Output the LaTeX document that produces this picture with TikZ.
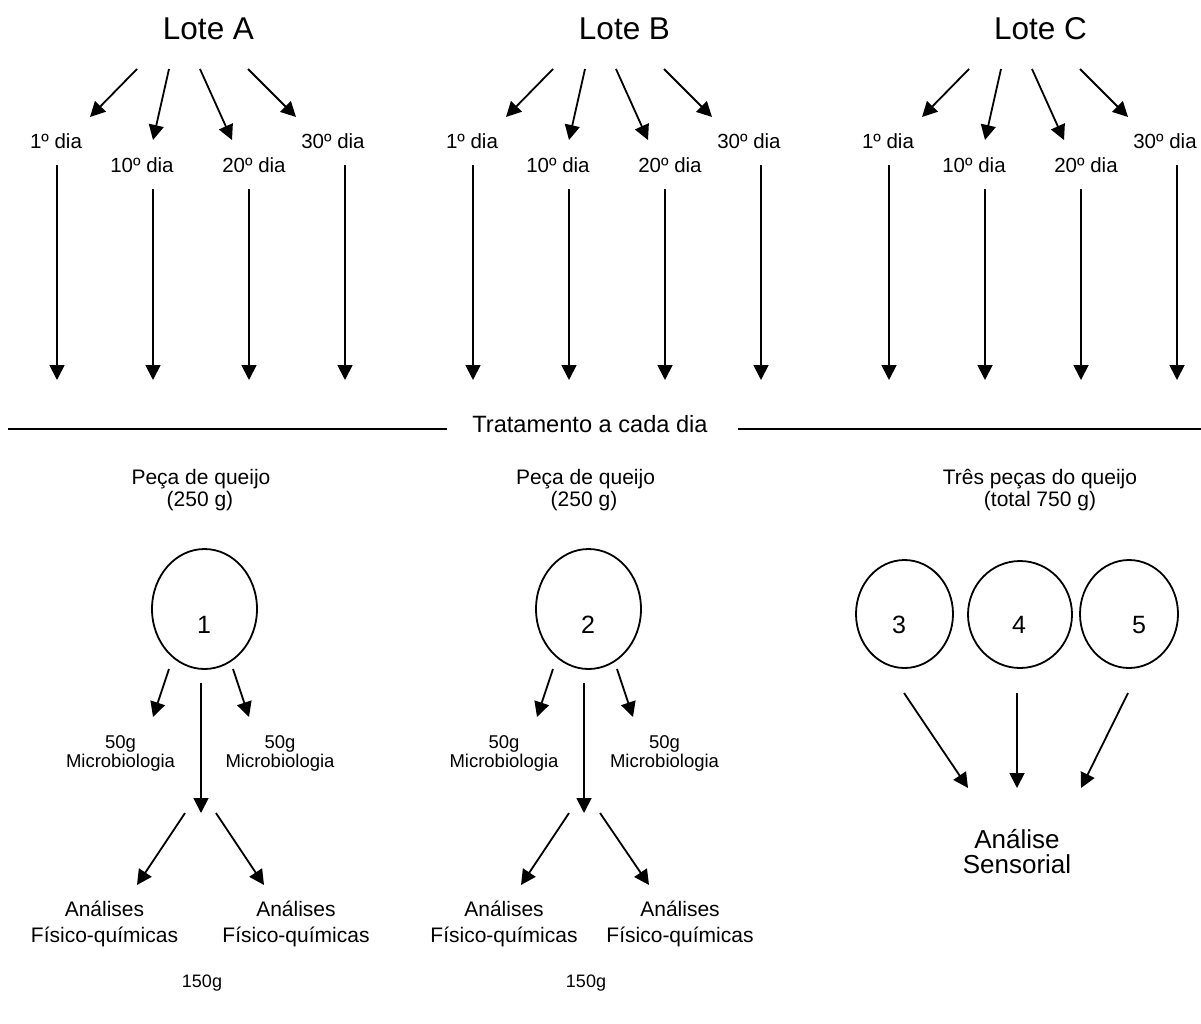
\documentclass[tikz,border=0pt]{standalone}
\usepackage{fontspec}
\setmainfont{Liberation Sans}
\usetikzlibrary{arrows.meta,shapes.geometric}
\tikzset{
  arr/.style={line width=1.8pt, -{Triangle[length=15pt,width=15pt]}},
  plain/.style={line width=1.8pt},
  txt/.style={anchor=base, inner sep=0pt, outer sep=0pt},
  lote/.style={txt, font=\fontsize{31.5}{36}\selectfont},
  dia/.style={txt, font=\fontsize{20.5}{24}\selectfont},
  trat/.style={txt, font=\fontsize{23.6}{28}\selectfont},
  peca/.style={txt, font=\fontsize{21}{25}\selectfont},
  micro/.style={txt, font=\fontsize{18.5}{22}\selectfont},
  anal/.style={txt, font=\fontsize{21}{25}\selectfont},
  gram/.style={txt, font=\fontsize{18}{22}\selectfont},
  sens/.style={txt, font=\fontsize{26}{30}\selectfont},
  num/.style={txt, font=\fontsize{25}{30}\selectfont},
  cheese/.style={draw, ellipse, line width=1.8pt, inner sep=0pt, outer sep=0pt}
}
\begin{document}
\begin{tikzpicture}[x=1pt,y=-1pt]
\useasboundingbox (0,0) rectangle (1201,1023);
\fill[white] (0,0) rectangle (1201,1023);

% ---------- top: three lots ----------
\foreach \i/\L in {0/A,1/B,2/C} {
  \begin{scope}[xshift=\i*416pt]
    \node[lote] (lote\L) at (208.5,39) {Lote \L};
    \node[dia] (d1\L)  at (56,148)  {1º dia};
    \node[dia] (d10\L) at (142,172) {10º dia};
    \node[dia] (d20\L) at (254,172) {20º dia};
    \node[dia] (d30\L) at (333,148) {30º dia};
    \coordinate (s1\L) at (137,69);  \coordinate (e1\L) at (90,117);
    \coordinate (s2\L) at (169,69);  \coordinate (e2\L) at (153,140);
    \coordinate (s3\L) at (200,69);  \coordinate (e3\L) at (232,140);
    \coordinate (s4\L) at (248,69);  \coordinate (e4\L) at (296,117);
    \draw[arr] (s1\L) -- (e1\L);
    \draw[arr] (s2\L) -- (e2\L);
    \draw[arr] (s3\L) -- (e3\L);
    \draw[arr] (s4\L) -- (e4\L);
    \coordinate (v1s\L) at (57,165);  \coordinate (v1e\L) at (57,380);
    \coordinate (v2s\L) at (153,189); \coordinate (v2e\L) at (153,380);
    \coordinate (v3s\L) at (249,189); \coordinate (v3e\L) at (249,380);
    \coordinate (v4s\L) at (345,165); \coordinate (v4e\L) at (345,380);
    \draw[arr] (v1s\L) -- (v1e\L);
    \draw[arr] (v2s\L) -- (v2e\L);
    \draw[arr] (v3s\L) -- (v3e\L);
    \draw[arr] (v4s\L) -- (v4e\L);
  \end{scope}
}

% ---------- separator ----------
\node[trat] (trat) at (590,432) {Tratamento a cada dia};
\coordinate (l1) at (8,429);   \coordinate (l2) at (447,429);
\coordinate (r1) at (738,429); \coordinate (r2) at (1201,429);
\draw[plain] (l1) -- (l2);
\draw[plain] (r1) -- (r2);

% ---------- piece 1 ----------
\node[peca] (pA1) at (201,484) {Peça de queijo};
\node[peca] (pA2) at (200,506) {(250 g)};
\node[cheese, minimum width=105pt, minimum height=120pt] (ch1) at (204.5,609) {};
\node[num] (n1) at (204,633) {1};
\coordinate (a1) at (169,669); \coordinate (a1e) at (153,717);
\coordinate (a2) at (233,669); \coordinate (a2e) at (249,717);
\coordinate (a3) at (201,683); \coordinate (a3e) at (201,813);
\coordinate (a4) at (185,813); \coordinate (a4e) at (137,885);
\coordinate (a5) at (216,813); \coordinate (a5e) at (264,885);
\draw[arr] (a1) -- (a1e);
\draw[arr] (a2) -- (a2e);
\draw[arr] (a3) -- (a3e);
\draw[arr] (a4) -- (a4e);
\draw[arr] (a5) -- (a5e);
\node[micro] (mA1a) at (120.5,748) {50g};
\node[micro] (mA1b) at (120.5,767) {Microbiologia};
\node[micro] (mA2a) at (280,748) {50g};
\node[micro] (mA2b) at (280,767) {Microbiologia};
\node[anal] (fA1a) at (104.5,916) {Análises};
\node[anal] (fA1b) at (104.5,942) {Físico-químicas};
\node[anal] (fA2a) at (296,916) {Análises};
\node[anal] (fA2b) at (296,942) {Físico-químicas};
\node[gram] (gA) at (202,987) {150g};

% ---------- piece 2 ----------
\node[peca] (pB1) at (585.5,484) {Peça de queijo};
\node[peca] (pB2) at (584,506) {(250 g)};
\node[cheese, minimum width=105pt, minimum height=120pt] (ch2) at (588.5,609) {};
\node[num] (n2) at (588,633) {2};
\coordinate (b1) at (553,669); \coordinate (b1e) at (537,717);
\coordinate (b2) at (617,669); \coordinate (b2e) at (633,717);
\coordinate (b3) at (584,683); \coordinate (b3e) at (584,813);
\coordinate (b4) at (569,813); \coordinate (b4e) at (521,885);
\coordinate (b5) at (600,813); \coordinate (b5e) at (649,885);
\draw[arr] (b1) -- (b1e);
\draw[arr] (b2) -- (b2e);
\draw[arr] (b3) -- (b3e);
\draw[arr] (b4) -- (b4e);
\draw[arr] (b5) -- (b5e);
\node[micro] (mB1a) at (504,748) {50g};
\node[micro] (mB1b) at (504,767) {Microbiologia};
\node[micro] (mB2a) at (664.5,748) {50g};
\node[micro] (mB2b) at (664.5,767) {Microbiologia};
\node[anal] (fB1a) at (504,916) {Análises};
\node[anal] (fB1b) at (504,942) {Físico-químicas};
\node[anal] (fB2a) at (680,916) {Análises};
\node[anal] (fB2b) at (680,942) {Físico-químicas};
\node[gram] (gB) at (586,987) {150g};

% ---------- pieces 3,4,5 ----------
\node[peca] (pC1) at (1040,484) {Três peças do queijo};
\node[peca] (pC2) at (1040,506) {(total 750 g)};
\node[cheese, minimum width=97pt, minimum height=108pt] (ch3) at (904.5,614) {};
\node[cheese, minimum width=104pt, minimum height=107pt] (ch4) at (1020,614.5) {};
\node[cheese, minimum width=98pt, minimum height=108pt] (ch5) at (1129,614) {};
\node[num] (n3) at (899,633) {3};
\node[num] (n4) at (1019,633) {4};
\node[num] (n5) at (1139,633) {5};
\coordinate (c1) at (904,693);  \coordinate (c1e) at (968,788);
\coordinate (c2) at (1017,693); \coordinate (c2e) at (1017,788);
\coordinate (c3) at (1128,693); \coordinate (c3e) at (1081,788);
\draw[arr] (c1) -- (c1e);
\draw[arr] (c2) -- (c2e);
\draw[arr] (c3) -- (c3e);
\node[sens] (s1) at (1017,848) {Análise};
\node[sens] (s2) at (1017,873) {Sensorial};
\end{tikzpicture}
\end{document}
